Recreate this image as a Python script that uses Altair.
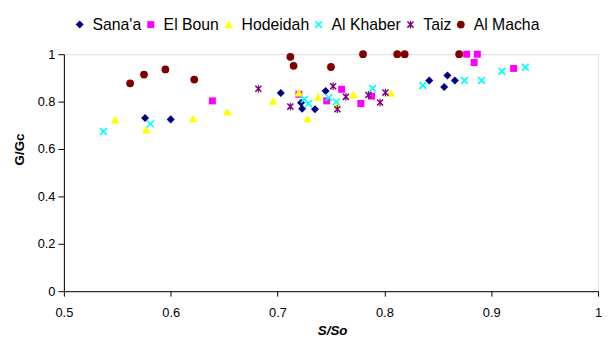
import altair as alt
import pandas as pd

series_names = ["Sana'a", "El Boun", "Hodeidah", "Al Khaber", "Taiz", "Al Macha"]
colors = ["#000080", "#FF00FF", "#FFFF00", "#00FFFF", "#800080", "#800000"]
X_PATH = "M-1,-0.7L-0.7,-1L1,0.7L0.7,1Z M-1,0.7L0.7,-1L1,-0.7L-0.7,1Z"
STAR_PATH = X_PATH + " M-0.16,-1.1L0.16,-1.1L0.16,1.1L-0.16,1.1Z"
shapes = ["diamond", "square", "triangle-up", X_PATH, STAR_PATH, "circle"]
sizes = [66, 50, 78, 64, 52, 62]

sanaa_x = [0.576, 0.600, 0.703, 0.722, 0.723, 0.735, 0.745, 0.842, 0.856, 0.859, 0.866]
sanaa_y = [0.731, 0.725, 0.836, 0.795, 0.770, 0.768, 0.845, 0.889, 0.862, 0.910, 0.889]

elboun_x = [0.639, 0.720, 0.746, 0.760, 0.778, 0.788, 0.877, 0.884, 0.887, 0.921]
elboun_y = [0.803, 0.831, 0.803, 0.852, 0.792, 0.823, 1.0, 0.965, 1.0, 0.940]

hodeidah_x = [0.548, 0.577, 0.621, 0.653, 0.696, 0.720, 0.728, 0.738, 0.756, 0.771, 0.806]
hodeidah_y = [0.724, 0.681, 0.729, 0.757, 0.803, 0.838, 0.729, 0.820, 0.786, 0.831, 0.836]

khaber_x = [0.537, 0.581, 0.725, 0.729, 0.748, 0.755, 0.789, 0.836, 0.875, 0.891, 0.910, 0.932]
khaber_y = [0.674, 0.706, 0.810, 0.792, 0.817, 0.799, 0.855, 0.868, 0.889, 0.889, 0.928, 0.945]

taiz_x = [0.682, 0.712, 0.752, 0.756, 0.764, 0.785, 0.796, 0.801]
taiz_y = [0.854, 0.779, 0.865, 0.768, 0.820, 0.828, 0.796, 0.838]

macha_x = [0.562, 0.575, 0.595, 0.622, 0.712, 0.715, 0.750, 0.780, 0.812, 0.819, 0.870]
macha_y = [0.877, 0.914, 0.936, 0.893, 0.989, 0.951, 0.946, 1.0, 1.0, 1.0, 1.0]

x_ticks = [0.5, 0.6, 0.7, 0.8, 0.9, 1.0]
y_ticks = [0, 0.2, 0.4, 0.6, 0.8, 1.0]

all_x = [sanaa_x, elboun_x, hodeidah_x, khaber_x, taiz_x, macha_x]
all_y = [sanaa_y, elboun_y, hodeidah_y, khaber_y, taiz_y, macha_y]

rows = []
for name, xs, ys in zip(series_names, all_x, all_y):
    for xv, yv in zip(xs, ys):
        rows.append({"series": name, "x": xv, "y": yv})
df = pd.DataFrame(rows)

FONT = "Liberation Sans"

leg = alt.Legend(
    orient="none", legendX=8, legendY=-38, direction="horizontal", title=None,
    labelFontSize=16, labelFont=FONT, labelColor="black", symbolSize=50,
    columnPadding=1, labelOffset=5, symbolOpacity=1,
)

chart = alt.Chart(df).mark_point(
    filled=True, opacity=1, fillOpacity=1
).encode(
    x=alt.X("x:Q", scale=alt.Scale(domain=[0.5, 1], nice=False, zero=False),
            axis=alt.Axis(values=x_ticks, format=".1~f", tickSize=5, labelPadding=11,
                          labelFontSize=13, labelFont=FONT, labelColor="black",
                          domainColor="black", tickColor="black", grid=False,
                          labelFlush=False, labelOverlap=False,
                          title="S/So", titleFont=FONT, titleFontSize=13.5,
                          titleFontStyle="italic", titleFontWeight="bold",
                          titleColor="black", titleX=271.7, titleY=40,
                          titleAlign="center", titleBaseline="middle")),
    y=alt.Y("y:Q", scale=alt.Scale(domain=[0, 1], nice=False),
            axis=alt.Axis(values=y_ticks, format=".1~f", tickSize=6, labelPadding=3,
                          labelFontSize=13, labelFont=FONT, labelColor="black",
                          domainColor="black", tickColor="black", grid=False,
                          labelOverlap=False,
                          title="G/Gc", titleFont=FONT, titleFontSize=13.5,
                          titleFontWeight="bold", titleColor="black",
                          titleX=-45, titleY=96, titleAlign="center",
                          titleBaseline="middle")),
    color=alt.Color("series:N", scale=alt.Scale(domain=series_names, range=colors), legend=leg),
    shape=alt.Shape("series:N", scale=alt.Scale(domain=series_names, range=shapes), legend=leg),
    size=alt.Size("series:N", scale=alt.Scale(type="ordinal", domain=series_names, range=sizes), legend=None),
).properties(
    width=541, height=240,
    autosize=alt.AutoSizeParams(type="none"),
    padding={"left": 56.6, "top": 44.7, "right": 4, "bottom": 45},
).configure_view(strokeWidth=0).configure(font=FONT)

chart.save("out.html", embed_options={"renderer": "svg", "actions": False})
